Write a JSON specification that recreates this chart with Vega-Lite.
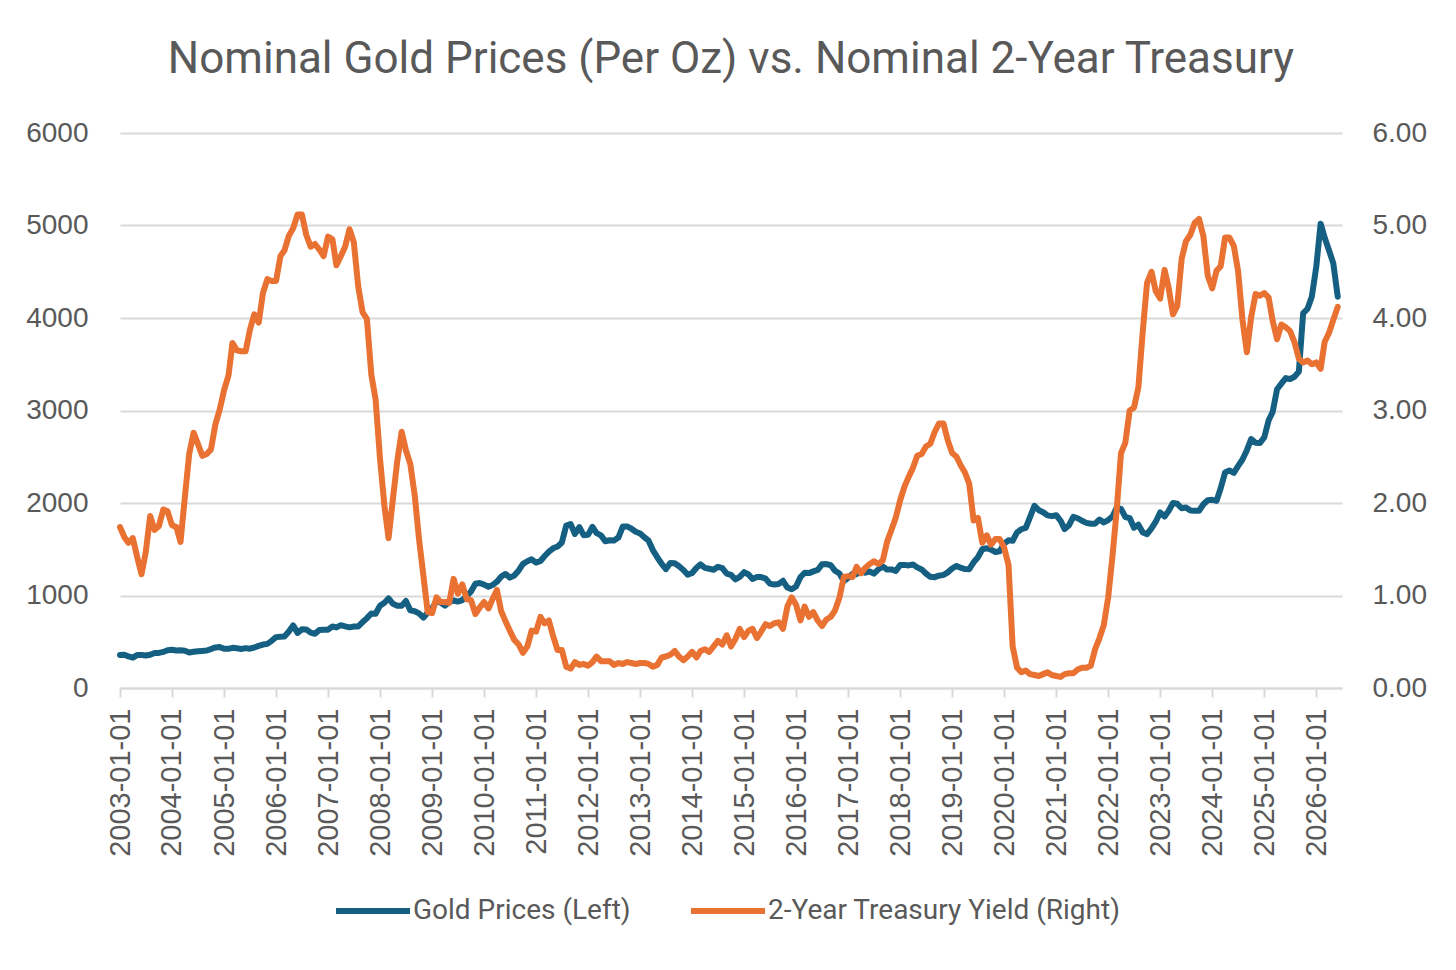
{
"$schema":"https://vega.github.io/schema/vega-lite/v6.json",
"width":1222,"height":555,
"autosize":"none",
"padding":{"left":120,"top":133,"right":114,"bottom":282},
"background":"white",
"title":{"text":"Nominal Gold Prices (Per Oz) vs. Nominal 2-Year Treasury","font":"Roboto","fontSize":44,"fontWeight":"normal","color":"#595959","anchor":"middle","offset":37},
"data":{"values":[
{"date":"2003-01-01","gold":357,"yield":1.74},{"date":"2003-02-01","gold":359,"yield":1.63},{"date":"2003-03-01","gold":341,"yield":1.57},{"date":"2003-04-01","gold":328,"yield":1.62},{"date":"2003-05-01","gold":356,"yield":1.42},{"date":"2003-06-01","gold":356,"yield":1.23},{"date":"2003-07-01","gold":351,"yield":1.47},{"date":"2003-08-01","gold":360,"yield":1.86},{"date":"2003-09-01","gold":379,"yield":1.71},{"date":"2003-10-01","gold":379,"yield":1.75},{"date":"2003-11-01","gold":390,"yield":1.93},{"date":"2003-12-01","gold":408,"yield":1.91},
{"date":"2004-01-01","gold":414,"yield":1.76},{"date":"2004-02-01","gold":405,"yield":1.74},{"date":"2004-03-01","gold":407,"yield":1.58},{"date":"2004-04-01","gold":403,"yield":2.07},{"date":"2004-05-01","gold":384,"yield":2.53},{"date":"2004-06-01","gold":392,"yield":2.76},{"date":"2004-07-01","gold":398,"yield":2.64},{"date":"2004-08-01","gold":401,"yield":2.51},{"date":"2004-09-01","gold":405,"yield":2.53},{"date":"2004-10-01","gold":421,"yield":2.58},{"date":"2004-11-01","gold":439,"yield":2.85},{"date":"2004-12-01","gold":442,"yield":3.01},
{"date":"2005-01-01","gold":424,"yield":3.22},{"date":"2005-02-01","gold":423,"yield":3.38},{"date":"2005-03-01","gold":434,"yield":3.73},{"date":"2005-04-01","gold":429,"yield":3.65},{"date":"2005-05-01","gold":422,"yield":3.64},{"date":"2005-06-01","gold":431,"yield":3.64},{"date":"2005-07-01","gold":425,"yield":3.87},{"date":"2005-08-01","gold":438,"yield":4.04},{"date":"2005-09-01","gold":456,"yield":3.95},{"date":"2005-10-01","gold":470,"yield":4.27},{"date":"2005-11-01","gold":477,"yield":4.42},{"date":"2005-12-01","gold":510,"yield":4.40},
{"date":"2006-01-01","gold":550,"yield":4.40},{"date":"2006-02-01","gold":555,"yield":4.67},{"date":"2006-03-01","gold":557,"yield":4.73},{"date":"2006-04-01","gold":611,"yield":4.89},{"date":"2006-05-01","gold":677,"yield":4.97},{"date":"2006-06-01","gold":596,"yield":5.12},{"date":"2006-07-01","gold":634,"yield":5.12},{"date":"2006-08-01","gold":633,"yield":4.90},{"date":"2006-09-01","gold":598,"yield":4.77},{"date":"2006-10-01","gold":586,"yield":4.80},{"date":"2006-11-01","gold":628,"yield":4.74},{"date":"2006-12-01","gold":630,"yield":4.67},
{"date":"2007-01-01","gold":631,"yield":4.88},{"date":"2007-02-01","gold":665,"yield":4.85},{"date":"2007-03-01","gold":655,"yield":4.57},{"date":"2007-04-01","gold":679,"yield":4.67},{"date":"2007-05-01","gold":667,"yield":4.77},{"date":"2007-06-01","gold":656,"yield":4.96},{"date":"2007-07-01","gold":665,"yield":4.82},{"date":"2007-08-01","gold":665,"yield":4.34},{"date":"2007-09-01","gold":713,"yield":4.06},{"date":"2007-10-01","gold":755,"yield":3.99},{"date":"2007-11-01","gold":806,"yield":3.39},{"date":"2007-12-01","gold":803,"yield":3.12},
{"date":"2008-01-01","gold":890,"yield":2.48},{"date":"2008-02-01","gold":922,"yield":1.97},{"date":"2008-03-01","gold":968,"yield":1.62},{"date":"2008-04-01","gold":910,"yield":2.05},{"date":"2008-05-01","gold":889,"yield":2.45},{"date":"2008-06-01","gold":890,"yield":2.77},{"date":"2008-07-01","gold":940,"yield":2.57},{"date":"2008-08-01","gold":839,"yield":2.42},{"date":"2008-09-01","gold":830,"yield":2.08},{"date":"2008-10-01","gold":807,"yield":1.61},{"date":"2008-11-01","gold":761,"yield":1.21},{"date":"2008-12-01","gold":816,"yield":0.82},
{"date":"2009-01-01","gold":859,"yield":0.81},{"date":"2009-02-01","gold":943,"yield":0.98},{"date":"2009-03-01","gold":924,"yield":0.93},{"date":"2009-04-01","gold":890,"yield":0.93},{"date":"2009-05-01","gold":929,"yield":0.92},{"date":"2009-06-01","gold":946,"yield":1.18},{"date":"2009-07-01","gold":934,"yield":1.02},{"date":"2009-08-01","gold":949,"yield":1.12},{"date":"2009-09-01","gold":997,"yield":0.96},{"date":"2009-10-01","gold":1043,"yield":0.95},{"date":"2009-11-01","gold":1127,"yield":0.80},{"date":"2009-12-01","gold":1135,"yield":0.87},
{"date":"2010-01-01","gold":1118,"yield":0.93},{"date":"2010-02-01","gold":1095,"yield":0.86},{"date":"2010-03-01","gold":1113,"yield":0.96},{"date":"2010-04-01","gold":1149,"yield":1.06},{"date":"2010-05-01","gold":1205,"yield":0.83},{"date":"2010-06-01","gold":1233,"yield":0.72},{"date":"2010-07-01","gold":1193,"yield":0.62},{"date":"2010-08-01","gold":1216,"yield":0.52},{"date":"2010-09-01","gold":1271,"yield":0.47},{"date":"2010-10-01","gold":1342,"yield":0.38},{"date":"2010-11-01","gold":1370,"yield":0.45},{"date":"2010-12-01","gold":1391,"yield":0.62},
{"date":"2011-01-01","gold":1356,"yield":0.61},{"date":"2011-02-01","gold":1373,"yield":0.77},{"date":"2011-03-01","gold":1424,"yield":0.70},{"date":"2011-04-01","gold":1474,"yield":0.73},{"date":"2011-05-01","gold":1510,"yield":0.56},{"date":"2011-06-01","gold":1529,"yield":0.41},{"date":"2011-07-01","gold":1573,"yield":0.41},{"date":"2011-08-01","gold":1756,"yield":0.23},{"date":"2011-09-01","gold":1772,"yield":0.21},{"date":"2011-10-01","gold":1665,"yield":0.28},{"date":"2011-11-01","gold":1739,"yield":0.25},{"date":"2011-12-01","gold":1652,"yield":0.26},
{"date":"2012-01-01","gold":1656,"yield":0.24},{"date":"2012-02-01","gold":1743,"yield":0.28},{"date":"2012-03-01","gold":1674,"yield":0.34},{"date":"2012-04-01","gold":1650,"yield":0.29},{"date":"2012-05-01","gold":1586,"yield":0.29},{"date":"2012-06-01","gold":1597,"yield":0.29},{"date":"2012-07-01","gold":1594,"yield":0.25},{"date":"2012-08-01","gold":1626,"yield":0.27},{"date":"2012-09-01","gold":1745,"yield":0.26},{"date":"2012-10-01","gold":1747,"yield":0.28},{"date":"2012-11-01","gold":1722,"yield":0.27},{"date":"2012-12-01","gold":1689,"yield":0.26},
{"date":"2013-01-01","gold":1670,"yield":0.27},{"date":"2013-02-01","gold":1628,"yield":0.27},{"date":"2013-03-01","gold":1593,"yield":0.26},{"date":"2013-04-01","gold":1488,"yield":0.23},{"date":"2013-05-01","gold":1414,"yield":0.25},{"date":"2013-06-01","gold":1343,"yield":0.33},{"date":"2013-07-01","gold":1286,"yield":0.34},{"date":"2013-08-01","gold":1352,"yield":0.36},{"date":"2013-09-01","gold":1349,"yield":0.40},{"date":"2013-10-01","gold":1316,"yield":0.34},{"date":"2013-11-01","gold":1276,"yield":0.30},{"date":"2013-12-01","gold":1225,"yield":0.34},
{"date":"2014-01-01","gold":1244,"yield":0.39},{"date":"2014-02-01","gold":1300,"yield":0.33},{"date":"2014-03-01","gold":1336,"yield":0.40},{"date":"2014-04-01","gold":1299,"yield":0.42},{"date":"2014-05-01","gold":1289,"yield":0.39},{"date":"2014-06-01","gold":1279,"yield":0.45},{"date":"2014-07-01","gold":1311,"yield":0.51},{"date":"2014-08-01","gold":1295,"yield":0.47},{"date":"2014-09-01","gold":1237,"yield":0.57},{"date":"2014-10-01","gold":1223,"yield":0.45},{"date":"2014-11-01","gold":1175,"yield":0.53},{"date":"2014-12-01","gold":1201,"yield":0.64},
{"date":"2015-01-01","gold":1252,"yield":0.55},{"date":"2015-02-01","gold":1227,"yield":0.62},{"date":"2015-03-01","gold":1179,"yield":0.64},{"date":"2015-04-01","gold":1199,"yield":0.54},{"date":"2015-05-01","gold":1199,"yield":0.61},{"date":"2015-06-01","gold":1182,"yield":0.69},{"date":"2015-07-01","gold":1128,"yield":0.67},{"date":"2015-08-01","gold":1118,"yield":0.70},{"date":"2015-09-01","gold":1125,"yield":0.71},{"date":"2015-10-01","gold":1159,"yield":0.64},{"date":"2015-11-01","gold":1086,"yield":0.88},{"date":"2015-12-01","gold":1068,"yield":0.98},
{"date":"2016-01-01","gold":1098,"yield":0.90},{"date":"2016-02-01","gold":1200,"yield":0.73},{"date":"2016-03-01","gold":1245,"yield":0.88},{"date":"2016-04-01","gold":1242,"yield":0.77},{"date":"2016-05-01","gold":1261,"yield":0.82},{"date":"2016-06-01","gold":1276,"yield":0.73},{"date":"2016-07-01","gold":1337,"yield":0.67},{"date":"2016-08-01","gold":1340,"yield":0.74},{"date":"2016-09-01","gold":1327,"yield":0.77},{"date":"2016-10-01","gold":1267,"yield":0.84},{"date":"2016-11-01","gold":1238,"yield":0.98},{"date":"2016-12-01","gold":1157,"yield":1.20},
{"date":"2017-01-01","gold":1192,"yield":1.21},{"date":"2017-02-01","gold":1234,"yield":1.20},{"date":"2017-03-01","gold":1231,"yield":1.31},{"date":"2017-04-01","gold":1267,"yield":1.24},{"date":"2017-05-01","gold":1246,"yield":1.30},{"date":"2017-06-01","gold":1260,"yield":1.34},{"date":"2017-07-01","gold":1237,"yield":1.37},{"date":"2017-08-01","gold":1283,"yield":1.34},{"date":"2017-09-01","gold":1314,"yield":1.38},{"date":"2017-10-01","gold":1280,"yield":1.58},{"date":"2017-11-01","gold":1282,"yield":1.71},{"date":"2017-12-01","gold":1265,"yield":1.84},
{"date":"2018-01-01","gold":1331,"yield":2.03},{"date":"2018-02-01","gold":1331,"yield":2.18},{"date":"2018-03-01","gold":1325,"yield":2.28},{"date":"2018-04-01","gold":1335,"yield":2.38},{"date":"2018-05-01","gold":1304,"yield":2.51},{"date":"2018-06-01","gold":1282,"yield":2.53},{"date":"2018-07-01","gold":1238,"yield":2.61},{"date":"2018-08-01","gold":1202,"yield":2.64},{"date":"2018-09-01","gold":1198,"yield":2.77},{"date":"2018-10-01","gold":1215,"yield":2.86},{"date":"2018-11-01","gold":1221,"yield":2.86},{"date":"2018-12-01","gold":1250,"yield":2.68},
{"date":"2019-01-01","gold":1292,"yield":2.54},{"date":"2019-02-01","gold":1320,"yield":2.50},{"date":"2019-03-01","gold":1301,"yield":2.41},{"date":"2019-04-01","gold":1286,"yield":2.33},{"date":"2019-05-01","gold":1284,"yield":2.21},{"date":"2019-06-01","gold":1359,"yield":1.81},{"date":"2019-07-01","gold":1413,"yield":1.84},{"date":"2019-08-01","gold":1500,"yield":1.57},{"date":"2019-09-01","gold":1511,"yield":1.65},{"date":"2019-10-01","gold":1495,"yield":1.55},{"date":"2019-11-01","gold":1470,"yield":1.61},{"date":"2019-12-01","gold":1479,"yield":1.61},
{"date":"2020-01-01","gold":1561,"yield":1.52},{"date":"2020-02-01","gold":1597,"yield":1.33},{"date":"2020-03-01","gold":1592,"yield":0.45},{"date":"2020-04-01","gold":1683,"yield":0.22},{"date":"2020-05-01","gold":1716,"yield":0.17},{"date":"2020-06-01","gold":1732,"yield":0.19},{"date":"2020-07-01","gold":1847,"yield":0.15},{"date":"2020-08-01","gold":1969,"yield":0.14},{"date":"2020-09-01","gold":1922,"yield":0.13},{"date":"2020-10-01","gold":1900,"yield":0.15},{"date":"2020-11-01","gold":1866,"yield":0.17},{"date":"2020-12-01","gold":1858,"yield":0.14},
{"date":"2021-01-01","gold":1868,"yield":0.13},{"date":"2021-02-01","gold":1808,"yield":0.12},{"date":"2021-03-01","gold":1718,"yield":0.15},{"date":"2021-04-01","gold":1760,"yield":0.16},{"date":"2021-05-01","gold":1850,"yield":0.16},{"date":"2021-06-01","gold":1835,"yield":0.20},{"date":"2021-07-01","gold":1808,"yield":0.22},{"date":"2021-08-01","gold":1785,"yield":0.22},{"date":"2021-09-01","gold":1776,"yield":0.24},{"date":"2021-10-01","gold":1777,"yield":0.42},{"date":"2021-11-01","gold":1821,"yield":0.54},{"date":"2021-12-01","gold":1790,"yield":0.68},
{"date":"2022-01-01","gold":1816,"yield":0.98},{"date":"2022-02-01","gold":1856,"yield":1.44},{"date":"2022-03-01","gold":1948,"yield":1.91},{"date":"2022-04-01","gold":1937,"yield":2.54},{"date":"2022-05-01","gold":1849,"yield":2.65},{"date":"2022-06-01","gold":1837,"yield":3.00},{"date":"2022-07-01","gold":1733,"yield":3.03},{"date":"2022-08-01","gold":1765,"yield":3.25},{"date":"2022-09-01","gold":1681,"yield":3.86},{"date":"2022-10-01","gold":1664,"yield":4.38},{"date":"2022-11-01","gold":1725,"yield":4.50},{"date":"2022-12-01","gold":1798,"yield":4.29},
{"date":"2023-01-01","gold":1898,"yield":4.21},{"date":"2023-02-01","gold":1855,"yield":4.52},{"date":"2023-03-01","gold":1913,"yield":4.33},{"date":"2023-04-01","gold":2000,"yield":4.04},{"date":"2023-05-01","gold":1992,"yield":4.13},{"date":"2023-06-01","gold":1943,"yield":4.64},{"date":"2023-07-01","gold":1951,"yield":4.83},{"date":"2023-08-01","gold":1919,"yield":4.90},{"date":"2023-09-01","gold":1916,"yield":5.03},{"date":"2023-10-01","gold":1916,"yield":5.07},{"date":"2023-11-01","gold":1986,"yield":4.88},{"date":"2023-12-01","gold":2030,"yield":4.46},
{"date":"2024-01-01","gold":2034,"yield":4.32},{"date":"2024-02-01","gold":2023,"yield":4.51},{"date":"2024-03-01","gold":2159,"yield":4.56},{"date":"2024-04-01","gold":2331,"yield":4.87},{"date":"2024-05-01","gold":2352,"yield":4.87},{"date":"2024-06-01","gold":2326,"yield":4.78},{"date":"2024-07-01","gold":2399,"yield":4.51},{"date":"2024-08-01","gold":2470,"yield":3.98},{"date":"2024-09-01","gold":2571,"yield":3.63},{"date":"2024-10-01","gold":2691,"yield":4.01},{"date":"2024-11-01","gold":2651,"yield":4.26},{"date":"2024-12-01","gold":2648,"yield":4.24},
{"date":"2025-01-01","gold":2709,"yield":4.27},{"date":"2025-02-01","gold":2895,"yield":4.22},{"date":"2025-03-01","gold":2984,"yield":3.97},{"date":"2025-04-01","gold":3230,"yield":3.77},{"date":"2025-05-01","gold":3290,"yield":3.93},{"date":"2025-06-01","gold":3350,"yield":3.90},{"date":"2025-07-01","gold":3340,"yield":3.86},{"date":"2025-08-01","gold":3365,"yield":3.74},{"date":"2025-09-01","gold":3420,"yield":3.56},{"date":"2025-10-01","gold":4050,"yield":3.52},{"date":"2025-11-01","gold":4100,"yield":3.54},{"date":"2025-12-01","gold":4230,"yield":3.50},
{"date":"2026-01-01","gold":4550,"yield":3.52},{"date":"2026-02-01","gold":5020,"yield":3.45},{"date":"2026-03-01","gold":4870,"yield":3.74},{"date":"2026-04-01","gold":4730,"yield":3.84},{"date":"2026-05-01","gold":4590,"yield":3.98},{"date":"2026-06-01","gold":4230,"yield":4.12}
]},
"encoding":{
"x":{"field":"date","type":"temporal","scale":{"type":"utc","domain":[{"year":2003,"month":1,"date":1,"utc":true},{"year":2026,"month":7,"date":1,"utc":true}]},
"axis":{"title":null,"format":"%Y-%m-%d","tickCount":{"interval":"year","step":1},"labelAngle":270,"labelPadding":11,"tickSize":9,"tickColor":"#d9d9d9","tickWidth":2,"domainColor":"#d9d9d9","domainWidth":2,"grid":false,"labelFont":"Liberation Sans","labelFontSize":29,"labelColor":"#595959","labelOverlap":false,"labelFlush":false}}
},
"layer":[
{"mark":{"type":"line","strokeWidth":6,"strokeCap":"round","strokeJoin":"round"},
"encoding":{
"y":{"field":"gold","type":"quantitative","scale":{"domain":[0,6000],"nice":false,"zero":true},"axis":{"title":null,"values":[0,1000,2000,3000,4000,5000,6000],"format":"d","grid":true,"gridColor":"#d9d9d9","gridWidth":2,"domain":false,"ticks":false,"labelPadding":32,"labelFont":"Liberation Sans","labelFontSize":28,"labelColor":"#595959"}},
"color":{"datum":"Gold Prices (Left)","type":"nominal","scale":{"domain":["Gold Prices (Left)","2-Year Treasury Yield (Right)"],"range":["#156082","#E97132"]},
"legend":{"title":null,"orient":"none","legendX":213,"legendY":738,"direction":"horizontal","symbolType":"stroke","symbolStrokeWidth":6,"symbolSize":5476,"labelFont":"Roboto","labelFontSize":28,"labelColor":"#595959","columnPadding":48,"labelLimit":600,"labelOffset":0}}
}},
{"mark":{"type":"line","strokeWidth":6,"strokeCap":"round","strokeJoin":"round"},
"encoding":{
"y":{"field":"yield","type":"quantitative","scale":{"domain":[0,6],"nice":false,"zero":true},"axis":{"title":null,"orient":"right","values":[0,1,2,3,4,5,6],"format":".2f","grid":false,"domain":false,"ticks":false,"labelPadding":30,"labelFont":"Liberation Sans","labelFontSize":28,"labelColor":"#595959"}},
"color":{"datum":"2-Year Treasury Yield (Right)","type":"nominal"}
}}
],
"resolve":{"scale":{"y":"independent"}},
"config":{"view":{"stroke":null}}
}
